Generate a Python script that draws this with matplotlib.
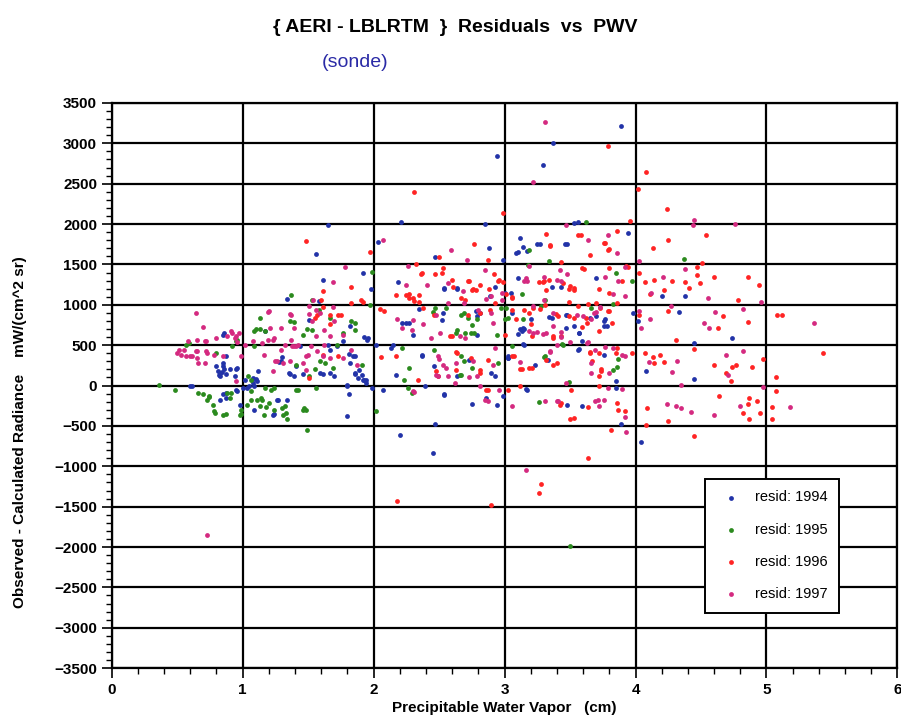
import matplotlib
matplotlib.use("Agg")
import matplotlib.pyplot as plt
from matplotlib.ticker import MultipleLocator

plt.rcParams['font.family'] = ['Liberation Sans', 'DejaVu Sans']

# residuals (pwv in cm, resid in mW/(cm^2 sr))
pts_1994 = [
    (0.85, 630), (0.80, 247), (0.81, 185), (0.84, 165), (0.83, 120), (0.85, 280), (0.86, 200), (0.90, 200),
    (0.95, 200), (0.94, 120), (0.61, -8), (0.95, -50), (1.00, -30), (1.03, -30), (1.07, 75), (1.11, 54),
    (1.12, 178), (1.08, 33), (0.83, -173), (0.87, -90), (0.98, -235), (1.09, -300), (1.26, -173), (1.34, -173),
    (1.23, -360), (1.29, 300), (1.35, 157), (1.39, 115), (1.44, 490), (1.59, 157), (1.67, 157), (1.70, 115),
    (1.80, 12), (1.81, -110), (1.80, -380), (1.82, 280), (1.84, 360), (1.86, 157), (1.65, 507), (1.17, 675),
    (1.65, 1992), (1.56, 1633), (1.61, 1311), (1.34, 1076), (1.58, 1043), (1.51, 817), (1.82, 734),
    (2.94, 2843), (3.37, 3010), (3.29, 2730), (2.21, 2024), (2.03, 1773), (2.85, 2007), (2.88, 1700),
    (2.47, 1590), (3.12, 1823), (3.09, 1638), (3.14, 1712), (3.17, 1670), (3.25, 1757), (3.46, 1757),
    (3.53, 2012), (1.92, 1390), (1.98, 1190), (2.19, 1287), (2.54, 1200), (2.64, 1200), (2.99, 1560),
    (2.93, 1217), (3.00, 1150), (2.52, 810), (2.35, 950), (2.81, 900), (3.06, 900), (3.47, 870), (3.36, 840),
    (3.65, 840), (2.25, 770), (3.14, 713), (3.47, 713),
    (3.89, 3220), (3.94, 1888), (4.20, 1105), (4.38, 1105), (4.33, 907), (3.98, 900), (3.76, 800),
    (3.78, 740), (4.02, 800),
    (1.96, 590), (1.95, 560), (2.02, 507), (2.15, 507), (2.13, 470), (2.30, 620), (2.37, 370), (2.17, 135),
    (1.91, 135), (1.93, 75), (1.94, 33), (1.99, -30), (2.07, -50), (2.39, 0), (2.54, -120), (2.47, -480),
    (2.20, -607), (2.45, -840), (2.75, -225), (2.86, -160), (2.94, -235), (2.99, -132), (2.90, 157),
    (2.79, 630), (2.46, 248), (2.73, 322), (3.03, 342), (3.23, 260), (3.17, -50), (3.15, 507), (3.48, -235),
    (3.59, -248), (3.56, 445), (3.13, 675), (3.57, 645),
    (4.45, 521), (4.74, 590), (4.08, 175), (4.45, 81), (3.85, -28), (3.89, -476), (4.04, -700), (3.76, 378),
    (3.10, 1332), (3.36, 1222), (3.43, 1222), (3.70, 1332), (3.05, 1150), (3.34, 853), (3.48, 870),
    (3.53, 738), (3.57, 655), (3.70, 866), (3.76, 738), (3.77, 820), (3.12, 700), (3.10, 640), (3.15, 700),
    (3.20, 820), (3.59, 550), (3.57, 455), (3.14, 510), (3.03, 342), (3.33, 322), (3.85, 53), (3.16, -40),
    (3.10, 1660), (3.27, 1750), (3.48, 1755), (3.56, 2030),
    (1.10, 83), (1.08, 95), (1.02, 74), (1.05, 0), (1.09, -8), (1.28, 288), (1.30, 355), (1.36, 148),
    (1.41, 247), (1.46, 148), (1.61, 148), (1.67, 445), (1.72, 495), (1.80, -8), (1.86, 144), (1.88, 95),
    (1.89, 198), (1.92, 74), (1.94, 74), (1.86, 371), (1.93, 602), (0.83, 157), (0.85, 240), (0.82, 136),
    (0.87, 148), (0.87, 363), (0.86, 651), (0.96, 218), (0.60, 0), (0.96, -66), (0.87, -148), (0.85, -107),
    (1.27, -173), (1.24, -355), (1.77, 548), (1.81, 396),
    (2.54, 1208), (2.64, 1208), (2.89, 1105), (2.22, 775), (2.27, 775), (2.53, 900), (2.78, 920),
    (2.79, 857), (2.37, 383), (2.64, 115), (2.93, 115), (2.54, -110), (3.03, 363),
]

pts_1995 = [
    (0.36, 12), (0.48, -50), (0.66, -90), (0.73, -173), (0.74, -130), (0.78, -320), (0.85, -360), (0.88, -90),
    (0.90, -150), (0.98, -360), (1.04, 115), (1.06, -70), (1.06, -173), (1.11, -173), (1.13, -255), (1.17, -30),
    (1.16, -360), (1.20, -215), (1.22, -50), (1.24, -300), (1.30, -280), (1.31, -360), (1.34, -420),
    (1.32, -255), (1.41, -50), (1.46, -300), (1.49, -545), (1.56, -30), (1.41, 260), (1.46, 630), (1.59, 300),
    (1.69, 218), (1.72, 507), (0.80, 405), (0.92, 486), (0.95, 550), (1.09, 486), (0.57, 507), (1.17, 675),
    (1.37, 1117), (1.53, 1063), (1.58, 940), (1.67, 837), (1.13, 837), (1.36, 796), (1.83, 796), (1.10, 705),
    (1.49, 705),
    (3.62, 2027), (3.19, 1684), (3.18, 1493), (1.99, 1410), (3.13, 1136), (3.31, 1063), (3.34, 1537),
    (2.45, 916), (2.67, 878), (2.72, 840), (2.79, 820), (2.97, 960), (3.01, 960), (3.14, 820), (3.28, 980),
    (3.66, 960), (1.97, 1000), (2.55, 960),
    (4.37, 1570), (3.85, 1393), (3.97, 1290), (3.83, 1010),
    (1.91, 260), (2.02, -320), (2.22, 470), (2.27, 218), (2.23, 75), (2.29, -90), (2.46, 445), (2.67, 363),
    (2.69, 300), (2.66, 135), (2.75, 218), (2.94, 630), (2.95, 280), (3.06, 496), (3.26, -208), (3.30, 355),
    (3.49, 41), (3.45, 507), (3.50, -1990), (2.63, 650), (2.74, 650),
    (3.83, 195), (3.86, 236), (3.00, 820), (3.44, 510), (3.31, 370), (3.87, 330),
    (1.48, -297), (1.47, -280), (1.42, -49), (1.33, -338), (1.14, -157), (1.15, -178), (1.24, -28),
    (1.18, -260), (0.99, -297), (1.03, -235), (1.06, 74), (1.51, 115), (1.55, 206), (1.63, 280), (1.86, 775),
    (1.86, 693), (1.53, 684), (1.39, 783), (1.09, 680), (1.13, 700), (1.77, 651), (0.74, -140), (0.70, -107),
    (0.91, -87), (0.77, -235), (0.79, -338), (0.87, -355), (0.99, -355), (0.59, 527), (0.96, 569),
    (2.47, 960), (2.69, 900), (2.70, 651), (2.75, 754), (2.64, 693), (2.67, 136), (3.03, 836), (2.77, 651),
    (2.26, -28),
]

pts_1996 = [
    (1.51, 95), (1.61, 383), (1.73, 363),
    (1.48, 1793), (1.61, 1175), (1.83, 1217), (1.61, 973), (1.67, 878), (1.73, 878), (1.55, 837), (1.67, 767),
    (2.31, 2400), (1.97, 1653), (2.77, 1757), (2.99, 2143), (3.32, 1880), (3.35, 1733), (3.56, 1865),
    (3.65, 1616), (2.50, 1590), (2.32, 1510), (2.36, 1386), (2.37, 1400), (2.47, 1380), (2.53, 1460),
    (2.52, 1390), (2.60, 1310), (2.73, 1290), (2.81, 1250), (2.76, 1190), (2.88, 1195), (2.87, 1560),
    (2.92, 1386), (2.96, 1310), (2.99, 1280), (2.27, 1136), (2.30, 1085), (2.35, 1125), (2.35, 1040),
    (2.70, 1063), (2.93, 1020), (3.06, 1100), (3.26, 1280), (3.32, 1180), (3.43, 1530), (3.45, 1270),
    (3.50, 1230), (3.53, 1180), (3.59, 1455), (2.05, 950), (2.08, 920), (1.90, 1060), (2.89, 930),
    (3.06, 930), (3.09, 820), (3.15, 940), (3.19, 900), (3.22, 960), (3.41, 860), (3.49, 1040), (3.62, 840),
    (3.70, 1020),
    (3.79, 2968), (4.08, 2643), (4.02, 2433), (4.24, 2186), (3.96, 2033), (3.86, 1920), (4.54, 1868),
    (3.76, 1765), (3.80, 1695), (4.25, 1798), (4.13, 1700), (3.80, 1455), (3.94, 1464), (4.03, 1393),
    (4.07, 1280), (4.14, 1310), (4.28, 1300), (4.38, 1280), (4.47, 1464), (4.51, 1517), (4.47, 1370),
    (4.49, 1270), (4.60, 1340), (4.86, 1345), (4.94, 1240), (3.90, 1290), (3.80, 1150), (3.86, 1020),
    (4.11, 1130), (4.22, 1185), (4.41, 1205), (4.78, 1055), (4.25, 920), (4.03, 880), (5.08, 880),
    (5.12, 880), (4.67, 860), (4.86, 790), (4.63, 710), (3.79, 920),
    (2.06, 355), (2.17, 370), (2.34, 75), (2.48, 178), (2.49, 115), (2.63, 413), (2.64, 405), (2.74, 342),
    (2.81, 157), (2.87, -50), (3.00, 620), (2.58, 610), (3.06, 363), (3.13, 206), (3.19, 218), (3.12, 0),
    (3.32, 322), (3.37, 260), (3.40, 280), (3.42, -235), (3.50, -410), (3.51, -50), (3.64, -264), (3.65, 413),
    (3.64, -900), (3.28, -1217), (3.26, -1330), (2.18, -1430), (2.90, -1480), (3.37, 610), (3.72, 115),
    (4.07, 399), (4.13, 358), (4.19, 378), (4.22, 297), (4.14, 285), (4.45, 448), (4.60, 256), (4.74, 236),
    (4.77, 256), (4.89, 228), (4.73, 53), (4.69, 155), (5.07, 106), (5.07, -69), (4.97, 326), (4.64, -130),
    (4.87, -150), (4.86, -232), (4.93, -191), (4.82, -334), (4.87, -415), (4.95, -334), (5.04, -260),
    (5.04, -415), (4.09, -273), (4.25, -435), (4.08, -488), (4.45, -620), (5.43, 400), (4.31, 560),
    (3.97, 407), (3.85, 400), (3.74, 204), (3.87, -301), (3.92, -313), (3.81, -545),
    (3.06, 1085), (3.01, 1130), (3.20, 760), (3.27, 953), (3.31, 994), (3.39, 883), (3.49, 862), (3.53, 840),
    (3.56, 982), (3.64, 1015), (3.73, 965), (3.63, 780), (3.59, 720), (3.72, 680), (3.80, 928), (3.82, 780),
    (3.29, 1280), (3.34, 1310), (3.49, 1190), (3.53, 1210), (3.61, 1440), (3.72, 1190), (3.30, 1295),
    (3.58, 1870), (3.35, 1740), (3.77, 1760), (3.79, 1680), (3.93, 1475), (3.21, 610), (3.37, 585),
    (3.43, 610), (3.12, 210), (3.21, 218), (3.65, 408), (3.72, 400), (3.86, 470), (3.67, 300), (3.74, 180),
    (3.07, 360), (3.43, -215), (3.53, -400), (3.72, 0), (3.86, -215),
    (1.60, 1063), (1.75, 878), (1.83, 1023), (1.92, 1030), (1.57, 878),
    (2.17, 1125), (2.25, 1125), (2.27, 1085), (2.31, 1043), (2.61, 1225), (2.67, 1085), (2.72, 1290),
    (2.75, 1188), (2.78, 1188), (2.38, 960), (2.46, 878), (2.60, 610), (2.63, 198), (2.72, 878), (2.81, 900),
    (2.81, 198), (2.87, 322), (2.95, 1290), (3.03, -49), (2.86, -49),
]

pts_1997 = [
    (0.65, 569), (0.71, 550), (0.80, 590), (0.88, 610), (0.92, 650), (0.94, 590), (0.50, 405), (0.53, 383),
    (0.57, 370), (0.61, 363), (0.65, 340), (0.73, 405), (0.64, 425), (0.55, 445), (0.71, 280), (0.78, 383),
    (0.85, 363), (0.95, 54), (0.99, 363), (1.02, 507), (1.16, 383), (1.23, 178), (1.26, 302), (1.31, 280),
    (1.36, 300), (1.42, 507), (1.46, 280), (1.50, 383), (1.56, 610), (1.61, 363), (1.67, 340), (1.77, 630),
    (1.38, 486), (1.32, 507), (1.23, 570), (1.08, 548), (0.73, -1850),
    (1.78, 1464), (1.69, 1283), (0.64, 899), (0.70, 722), (1.19, 915), (1.36, 886), (1.51, 886), (1.56, 940),
    (1.69, 973), (1.70, 804), (1.21, 713), (1.39, 713),
    (3.31, 3258), (3.22, 2515), (2.07, 1806), (2.59, 1683), (2.71, 1559), (2.26, 1485), (2.85, 1436),
    (3.19, 1485), (3.47, 1993), (3.64, 1798), (3.42, 1436), (3.48, 1386), (3.15, 1300), (3.30, 1350),
    (3.40, 1310), (2.25, 1250), (2.41, 1250), (2.57, 1270), (2.68, 1167), (2.86, 1076), (2.90, 1105),
    (3.22, 980), (3.30, 1063), (2.18, 830), (2.30, 810), (2.38, 760), (2.57, 1020), (2.90, 900), (3.37, 900),
    (3.55, 880), (3.68, 900), (2.22, 712), (2.48, 880), (2.98, 1063),
    (4.45, 2053), (4.44, 1993), (4.76, 2000), (3.79, 1868), (3.86, 1640), (4.03, 1547), (3.77, 1340),
    (3.87, 1290), (3.92, 1464), (4.21, 1350), (4.38, 1440), (4.12, 1150), (4.55, 1090), (4.82, 950),
    (4.96, 1040), (4.61, 907), (4.27, 980), (4.11, 820), (4.52, 775), (4.56, 715), (5.36, 770), (3.73, 970),
    (4.03, 920), (4.04, 713),
    (2.30, -70), (2.31, -80), (2.50, 330), (2.48, 135), (2.49, 115), (2.55, 218), (2.62, 33), (2.63, 280),
    (2.73, 107), (2.76, 300), (2.81, 0), (2.85, -185), (2.87, -190), (2.91, 260), (2.93, 470), (3.06, -248),
    (3.16, -1050), (3.22, 650), (3.35, 425), (3.40, 507), (3.32, 650), (3.40, -195), (3.47, 33), (3.66, 280),
    (3.66, 157), (3.69, -195), (3.63, 528), (2.66, 610), (2.70, 590),
    (4.10, 297), (4.32, 309), (4.28, 163), (4.35, 12), (4.24, -224), (4.31, -252), (4.35, -273), (4.42, -326),
    (4.60, -362), (4.69, 378), (4.82, 431), (4.71, 134), (4.80, -252), (4.97, -16), (5.18, -260),
    (3.93, -570), (3.92, -395), (3.83, 460), (3.80, 155), (3.90, 378), (3.79, -28), (3.90, -41), (3.72, -252),
    (3.19, 680), (3.25, 660), (3.29, 640), (3.37, 735), (3.43, 660), (3.60, 866), (3.66, 820), (3.70, 905),
    (3.43, 598), (3.50, 545), (3.64, 535), (3.69, 435), (3.77, 475), (3.83, 1140), (3.92, 1110), (3.16, 1332),
    (3.17, 1300), (3.43, 1290), (3.12, 290), (3.35, 420), (3.92, 360), (3.31, -195), (3.41, -195),
    (3.71, -175), (3.76, -175),
    (0.58, 548), (0.51, 437), (0.60, 371), (0.65, 424), (0.72, 424), (0.66, 280), (0.72, 548), (0.91, 672),
    (0.95, 610), (0.97, 651), (0.96, 536), (1.19, 569), (1.15, 527), (1.24, 589), (1.25, 300), (1.37, 569),
    (1.39, 486), (1.41, 486), (1.48, 363), (1.52, 486), (1.57, 424), (1.62, 507), (1.67, 610), (1.77, 342),
    (1.87, 260), (1.29, 713), (1.37, 878), (1.53, 795), (1.59, 900), (1.51, 980), (1.54, 1063), (1.20, 920),
    (1.29, 445), (1.48, 198), (1.62, 693), (1.83, 445),
    (2.80, 940), (2.91, 775), (2.98, 1145), (2.51, 651), (2.69, 1023), (2.79, 115), (2.96, -49), (2.44, 590),
    (2.49, 363), (2.53, 260), (2.57, 115), (2.29, 693),
]

series = [
    ('resid: 1994', pts_1994, '#2233a8'),
    ('resid: 1995', pts_1995, '#2b8a1e'),
    ('resid: 1996', pts_1996, '#ff2424'),
    ('resid: 1997', pts_1997, '#d42a80'),
]

fig = plt.figure(figsize=(9.01, 7.2), dpi=100)
ax = fig.add_axes([0.124, 0.072, 0.872, 0.785])

for label, pts, col in series:
    xs = [p[0] for p in pts]
    ys = [p[1] for p in pts]
    ax.scatter(xs, ys, s=12, color=col, linewidths=0, label=label, zorder=3)

ax.set_xlim(0, 6)
ax.set_ylim(-3500, 3500)
ax.xaxis.set_major_locator(MultipleLocator(1))
ax.xaxis.set_minor_locator(MultipleLocator(0.2))
ax.yaxis.set_major_locator(MultipleLocator(500))
ax.yaxis.set_minor_locator(MultipleLocator(100))
ax.grid(True, which='major', color='black', linewidth=1.6, zorder=1)
ax.set_axisbelow(True)
for sp in ax.spines.values():
    sp.set_linewidth(1.6)

ax.tick_params(which='major', direction='out', length=7, width=1.2, labelsize=11)
ax.tick_params(which='minor', direction='out', length=4, width=1)
for t in ax.get_xticklabels() + ax.get_yticklabels():
    t.set_fontweight('bold')

ax.set_xlabel('Precipitable Water Vapor   (cm)', fontsize=11, fontweight='bold', labelpad=3)
fig.text(0.022, 0.40, 'Observed - Calculated Radiance    mW/(cm^2 sr)', rotation=90,
         fontsize=11, fontweight='bold', ha='center', va='center')

fig.text(0.505, 0.962, '{ AERI - LBLRTM  }  Residuals  vs  PWV', fontsize=14,
         fontweight='semibold', ha='center', va='center')
fig.text(0.394, 0.913, '(sonde)', fontsize=14, color='#2a2aa6', ha='center', va='center')

leg = ax.legend(loc='lower left', bbox_to_anchor=(0.746, 0.085), fontsize=10.5,
                frameon=True, fancybox=False, edgecolor='black', framealpha=1,
                labelspacing=1.25, handletextpad=0.6, markerscale=1.0, borderpad=0.8)
leg.get_frame().set_linewidth(1.4)

fig.savefig('out.png', dpi=100)
